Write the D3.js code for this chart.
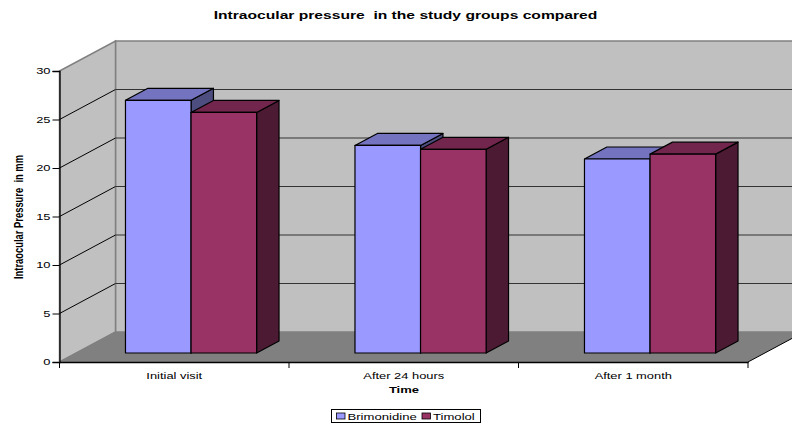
<!DOCTYPE html>
<html>
<head>
<meta charset="utf-8">
<script src="https://cdn.jsdelivr.net/npm/d3@7"></script>
<style>
  html, body { margin: 0; padding: 0; background: #fff; }
  svg { display: block; }
  text { font-family: "Liberation Sans", Arial, sans-serif; fill: #000; white-space: pre; }
</style>
</head>
<body>
<div id="chart"></div>
<script>
const categories = ["Initial visit", "After 24 hours", "After 1 month"];
const seriesNames = ["Brimonidine", "Timolol"];
const brimonidine = [26.05, 21.4, 20.0];
const timolol = [24.8, 21.0, 20.5];
const seriesValues = [brimonidine, timolol];
const yTicks = [0, 5, 10, 15, 20, 25, 30];

const colors = {
    Brimonidine: { front: "#9999ff", top: "#7373bf", side: "#4d4d80" },
    Timolol: { front: "#993366", top: "#73264d", side: "#4d1a33" }
};

const w = 792;
const h = 423;
const margin = { top: 71, right: 44, bottom: 61, left: 59.5 };

const svg = d3.select("#chart").append("svg")
    .attr("width", w)
    .attr("height", h);

// Scales for the front plane of the box
const x = d3.scaleBand()
    .domain(categories)
    .range([margin.left, w - margin.right]);

const xBar = d3.scaleBand()
    .domain(seriesNames)
    .range([0, x.bandwidth()])
    .paddingInner(0)
    .paddingOuter(0.75);

const y = d3.scaleLinear()
    .domain([0, 30])
    .range([h - margin.bottom, margin.top]);

// Oblique projection: depth 0 is the front, depth 1 the back wall
const depthX = 56;
const depthY = -30;
const barDepth = [0.3, 0.7];
const px = (xv, z) => xv + depthX * z;
const py = (yv, z) => yv + depthY * z;
const pt = (xv, v, z) => [px(xv, z), py(y(v), z)];
const poly = pts => pts.map(p => p.join(",")).join(" ");

const x0 = margin.left;
const x1 = w - margin.right;

// The original text is stretched sideways, so widen it by a fixed factor
const stretch = (sel, k) => sel.each(function() {
    const len = this.getComputedTextLength();
    d3.select(this)
        .attr("textLength", len * k)
        .attr("lengthAdjust", "spacingAndGlyphs");
});

// Walls and floor
const box = svg.append("g");

box.append("polygon")
    .attr("points", poly([pt(x0, 0, 1), pt(x0, 30, 1), pt(x1, 30, 1), pt(x1, 0, 1)]))
    .attr("fill", "#c0c0c0")
    .attr("stroke", "#808080")
    .attr("stroke-width", 1.5);

box.append("polygon")
    .attr("points", poly([pt(x0, 0, 0), pt(x0, 30, 0), pt(x0, 30, 1), pt(x0, 0, 1)]))
    .attr("fill", "#c0c0c0")
    .attr("stroke", "#808080")
    .attr("stroke-width", 1.5);

box.append("polygon")
    .attr("points", poly([pt(x0, 0, 0), pt(x0, 0, 1), pt(x1, 0, 1), pt(x1, 0, 0)]))
    .attr("fill", "#808080");

// Gridlines along the side wall and the back wall
const grid = yTicks.filter(d => d > 0 && d < 30);

box.selectAll(".grid-side")
    .data(grid)
    .enter()
    .append("line")
    .attr("x1", px(x0, 0))
    .attr("y1", d => py(y(d), 0))
    .attr("x2", px(x0, 1))
    .attr("y2", d => py(y(d), 1))
    .attr("stroke", "#000")
    .attr("stroke-width", 1);

box.selectAll(".grid-back")
    .data(grid)
    .enter()
    .append("line")
    .attr("x1", px(x0, 1))
    .attr("y1", d => py(y(d), 1))
    .attr("x2", px(x1, 1))
    .attr("y2", d => py(y(d), 1))
    .attr("stroke", "#333")
    .attr("stroke-width", 1);

// Edge of the floor on the right and on the left
box.append("line")
    .attr("x1", px(x1, 0)).attr("y1", py(y(0), 0))
    .attr("x2", px(x1, 1)).attr("y2", py(y(0), 1))
    .attr("stroke", "#000");

box.append("line")
    .attr("x1", px(x0, 0)).attr("y1", py(y(0), 0))
    .attr("x2", px(x0, 1)).attr("y2", py(y(0), 1))
    .attr("stroke", "#808080");

// 3D bars, one series after the other inside each category
const bars = svg.append("g");

categories.forEach((cat, i) => {
    seriesNames.forEach((name, s) => {
        const v = seriesValues[s][i];
        const c = colors[name];
        const left = x(cat) + xBar(name);
        const right = left + xBar.bandwidth();
        const [zf, zb] = barDepth;
        const g = bars.append("g")
            .attr("stroke", "#000")
            .attr("stroke-width", 1.2)
            .attr("stroke-linejoin", "round");
        g.append("polygon")
            .attr("points", poly([pt(right, 0, zf), pt(right, v, zf), pt(right, v, zb), pt(right, 0, zb)]))
            .attr("fill", c.side);
        g.append("polygon")
            .attr("points", poly([pt(left, v, zf), pt(left, v, zb), pt(right, v, zb), pt(right, v, zf)]))
            .attr("fill", c.top);
        g.append("polygon")
            .attr("points", poly([pt(left, 0, zf), pt(left, v, zf), pt(right, v, zf), pt(right, 0, zf)]))
            .attr("fill", c.front);
    });
});

// Axes
const yAxis = svg.append("g")
    .attr("transform", `translate(${margin.left},0)`)
    .call(d3.axisLeft(y).tickValues(yTicks).tickSize(7).tickPadding(2));

const xAxis = svg.append("g")
    .attr("transform", `translate(0,${h - margin.bottom})`)
    .call(d3.axisBottom(x).tickSize(0).tickPadding(10.5));

svg.selectAll(".x-tick")
    .data(categories.map(d => x(d)).concat([x1]))
    .enter()
    .append("line")
    .attr("x1", d => d)
    .attr("x2", d => d)
    .attr("y1", h - margin.bottom)
    .attr("y2", h - margin.bottom + 6)
    .attr("stroke", "#000");

[yAxis, xAxis].forEach(a => {
    a.selectAll("text")
        .attr("font-size", 9)
        .style("font-family", '"Liberation Sans", Arial, sans-serif')
        .call(stretch, 1.43);
    a.select(".domain").attr("stroke", "#000").attr("stroke-width", 1.3);
});

// Titles
svg.append("text")
    .attr("x", 405.5)
    .attr("y", 19)
    .attr("text-anchor", "middle")
    .attr("font-size", 11)
    .attr("font-weight", "bold")
    .text("Intraocular pressure  in the study groups compared")
    .call(stretch, 1.42);

svg.append("text")
    .attr("x", 404)
    .attr("y", 393)
    .attr("text-anchor", "middle")
    .attr("font-size", 9.5)
    .attr("font-weight", "bold")
    .text("Time")
    .call(stretch, 1.37);

svg.append("text")
    .attr("transform", "translate(23,217) rotate(-90)")
    .attr("text-anchor", "middle")
    .attr("font-size", 12)
    .attr("font-weight", "bold")
    .attr("textLength", 124)
    .attr("lengthAdjust", "spacingAndGlyphs")
    .text("Intraocular Pressure  in mm");

// Legend
const legend = svg.append("g");

legend.append("rect")
    .attr("x", 331.5)
    .attr("y", 409.5)
    .attr("width", 149)
    .attr("height", 13)
    .attr("fill", "#fff")
    .attr("stroke", "#000");

const legendKeyX = d3.scaleOrdinal().domain(seriesNames).range([336.5, 422]);

seriesNames.forEach(name => {
    legend.append("rect")
        .attr("x", legendKeyX(name))
        .attr("y", 413)
        .attr("width", 8.5)
        .attr("height", 6)
        .attr("fill", colors[name].front)
        .attr("stroke", "#000")
        .attr("stroke-width", 0.8);
    legend.append("text")
        .attr("x", legendKeyX(name) + 11)
        .attr("y", 420)
        .attr("font-size", 9.5)
        .text(name)
        .call(stretch, 1.38);
});
</script>
</body>
</html>
